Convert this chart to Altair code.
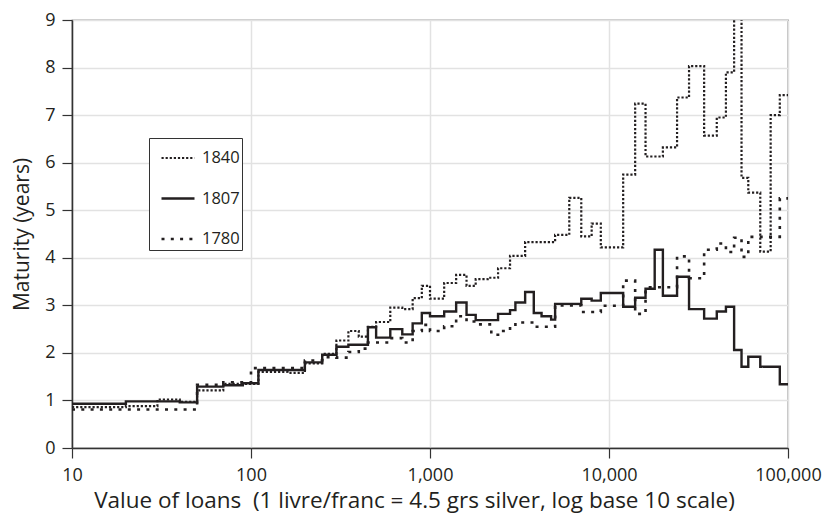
import altair as alt
import pandas as pd

series_order = ["1840", "1807", "1780"]

# loan-value bin starts (livres/francs) and maturities (years); last value repeats at 100,000
x_1840 = [10, 20, 30, 40, 50, 70, 110, 160, 200, 250, 300, 350, 400, 450, 500, 600, 700, 800, 900, 1000,
          1200, 1400, 1600, 1800, 2100, 2400, 2800, 3400, 5000, 6000, 7000, 8000, 9000, 12000, 14000, 16000,
          20000, 24000, 28000, 34000, 40000, 45000, 50000, 55000, 60000, 70000, 80000, 90000, 100000]
y_1840 = [0.86, 0.88, 1.02, 0.97, 1.21, 1.35, 1.60, 1.58, 1.78, 1.98, 2.26, 2.46, 2.34, 2.55, 2.65, 2.95, 2.92,
          3.15, 3.41, 3.14, 3.47, 3.64, 3.41, 3.55, 3.58, 3.78, 4.04, 4.33, 4.48, 5.26, 4.45, 4.72, 4.22, 5.75,
          7.24, 6.13, 6.32, 7.37, 8.03, 6.57, 6.95, 7.90, 9.60, 5.68, 5.37, 4.13, 7.00, 7.42, 7.42]

x_1807 = [10, 20, 40, 50, 70, 90, 110, 200, 250, 300, 350, 450, 500, 600, 700, 800, 900, 1000, 1200, 1400,
          1600, 1800, 2400, 2800, 3000, 3400, 3800, 4200, 4750, 5000, 7000, 8000, 9000, 12000, 14000, 16000,
          18000, 20000, 24000, 28000, 34000, 40000, 45000, 50000, 55000, 60000, 70000, 90000, 100000]
y_1807 = [0.93, 0.98, 0.96, 1.29, 1.32, 1.36, 1.64, 1.80, 1.96, 2.13, 2.17, 2.54, 2.32, 2.50, 2.39, 2.62, 2.84,
          2.77, 2.87, 3.06, 2.80, 2.69, 2.82, 2.90, 3.06, 3.28, 2.84, 2.77, 2.70, 3.03, 3.14, 3.10, 3.26, 2.97,
          3.16, 3.35, 4.17, 3.20, 3.60, 2.92, 2.72, 2.87, 2.97, 2.06, 1.71, 1.92, 1.71, 1.34, 1.34]

x_1780 = [10, 50, 70, 100, 200, 250, 300, 350, 400, 450, 600, 700, 800, 900, 1000, 1200, 1400, 1600, 1800,
          2200, 2400, 2800, 3000, 3800, 5000, 7000, 9000, 12000, 14000, 16000, 24000, 28000, 34000, 40000,
          45000, 50000, 55000, 60000, 90000, 100000]
y_1780 = [0.81, 1.33, 1.38, 1.68, 1.84, 1.91, 1.90, 2.02, 2.09, 2.22, 2.31, 2.22, 2.46, 2.59, 2.46, 2.56, 2.77,
          2.66, 2.60, 2.38, 2.46, 2.55, 2.64, 2.55, 3.00, 2.86, 2.99, 3.52, 2.82, 3.38, 4.03, 3.57, 4.17, 4.30,
          4.12, 4.42, 4.02, 4.44, 5.25, 5.25]

x_ticks = [10, 100, 1000, 10000, 100000]
y_ticks = [0, 1, 2, 3, 4, 5, 6, 7, 8, 9]

rows = []
for name, xs, ys in [("1840", x_1840, y_1840), ("1807", x_1807, y_1807), ("1780", x_1780, y_1780)]:
    for xv, yv in zip(xs, ys):
        rows.append({"series": name, "value": xv, "maturity": yv})
df = pd.DataFrame(rows)

FONT = "Open Sans"
INK = "#231f20"

legend = alt.Legend(
    title=None,
    orient="none",
    legendX=77,
    legendY=118,
    symbolType="stroke",
    symbolSize=1089,
    symbolStrokeColor=INK,
    symbolOffset=9,
    padding=2,
    rowPadding=13.5,
    labelFont=FONT,
    labelFontSize=16.5,
    labelColor=INK,
    labelOffset=6,
    labelExpr="datum.label + '        '",
    fillColor="white",
)

chart = alt.Chart(df).mark_line(
    interpolate="step-after", strokeCap="butt", clip=True, color=INK
).encode(
    x=alt.X(
        "value:Q",
        scale=alt.Scale(type="log", domain=[10, 100000], nice=False),
        axis=alt.Axis(
            values=x_ticks, format=",",
            title="Value of loans \u00a0(1 livre/franc = 4.5 grs silver, log base 10 scale)",
            titlePadding=5, labelPadding=8, labelFlush=False, titleFontSize=22.5, titleX=342,
        ),
    ),
    y=alt.Y(
        "maturity:Q",
        scale=alt.Scale(domain=[0, 9], nice=False),
        axis=alt.Axis(values=y_ticks, title="Maturity (years)", titlePadding=12, labelPadding=7, titleFontSize=21),
    ),
    strokeDash=alt.StrokeDash(
        "series:N",
        scale=alt.Scale(domain=series_order, range=[[2.2, 1.9], [1, 0], [3.0, 6.3]]),
        legend=legend,
    ),
    strokeWidth=alt.StrokeWidth(
        "series:N",
        scale=alt.Scale(domain=series_order, range=[2.2, 2.6, 3.7]),
        legend=legend,
    ),
).properties(
    width=716,
    height=428,
    padding={"left": 72, "top": 20, "right": 38, "bottom": 65},
    autosize=alt.AutoSizeParams(type="none"),
).configure_view(
    stroke="#333333", strokeWidth=1.2
).configure_legend(
    strokeColor="#333333", strokeWidth=1
).configure_axis(
    labelFont=FONT, labelFontSize=18, labelColor=INK,
    titleFont=FONT, titleFontWeight="normal", titleColor=INK,
    domainColor="#333333", domainWidth=1.5,
    tickColor="#333333", tickSize=10, tickWidth=1.2,
    gridColor="#e2e2e2", gridWidth=1.5,
)

chart.save("out.html", embed_options={"renderer": "svg", "actions": False})
